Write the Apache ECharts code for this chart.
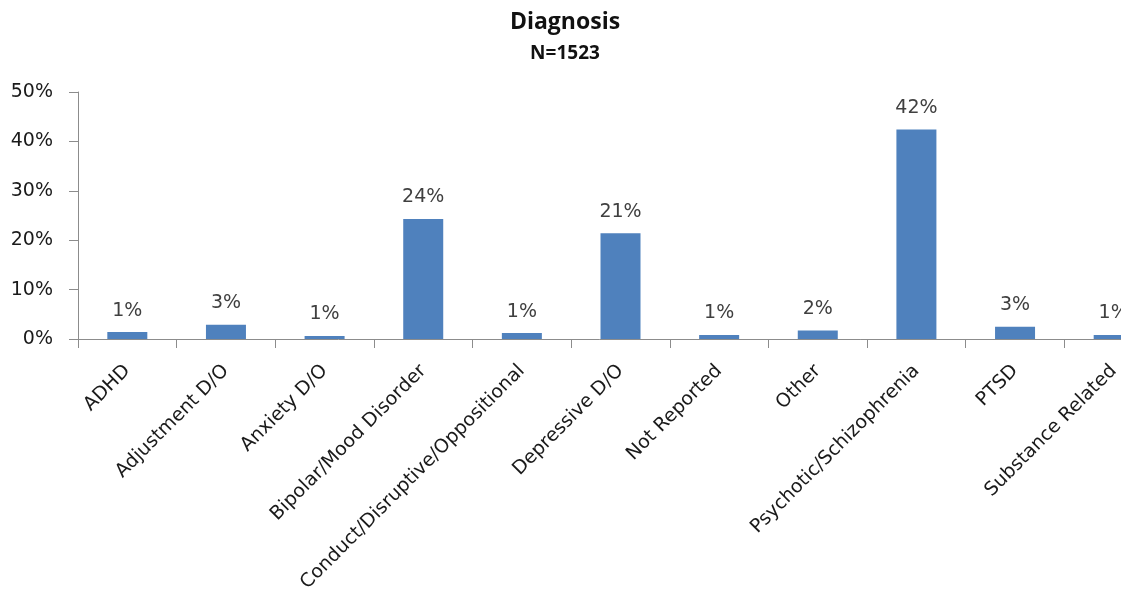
<!DOCTYPE html>
<html>
<head>
<meta charset="utf-8">
<script src="https://cdn.jsdelivr.net/npm/echarts@6/dist/echarts.min.js"></script>
<style>
  html, body { margin: 0; padding: 0; background: #ffffff; }
  #chart { width: 1121px; height: 590px; }
</style>
</head>
<body>
<div id="chart"></div>
<script>
// Diagnosis categories and share of clients (percent)
const categories = [
  'ADHD', 'Adjustment D/O', 'Anxiety D/O', 'Bipolar/Mood Disorder',
  'Conduct/Disruptive/Oppositional', 'Depressive D/O', 'Not Reported',
  'Other', 'Psychotic/Schizophrenia', 'PTSD', 'Substance Related'
];
const shares = [1.4, 2.9, 0.6, 24.3, 1.2, 21.4, 0.8, 1.7, 42.4, 2.5, 0.8];
const yTicks = [0, 10, 20, 30, 40, 50];

const titleText = 'Diagnosis';
const subtitleText = 'N=1523';

const axisGray = '#8c8c8c';
const textGray = '#404040';
const fontFace = 'Verdana, "DejaVu Sans", sans-serif';

const chart = echarts.init(document.getElementById('chart'), null, { renderer: 'canvas' });

chart.setOption({
  animation: false,
  backgroundColor: '#ffffff',
  title: [
    {
      text: titleText,
      left: 560, top: 6, textAlign: 'center',
      textStyle: { fontFamily: 'Open Sans', fontWeight: 'bold', fontSize: 23, color: '#111' }
    },
    {
      text: subtitleText,
      left: 560, top: 39, textAlign: 'center',
      textStyle: { fontFamily: 'Open Sans', fontWeight: 'bold', fontSize: 19, color: '#111' }
    }
  ],
  grid: {
    left: 78, top: 92, width: 1085, height: 247,
    containLabel: false, outerBoundsMode: 'none'
  },
  xAxis: {
    type: 'category',
    data: categories,
    axisLine: { show: true, lineStyle: { color: axisGray, width: 1 } },
    axisTick: { show: true, alignWithLabel: false, length: 9, lineStyle: { color: axisGray } },
    axisLabel: {
      interval: 0, rotate: 45, margin: 29,
      fontFamily: fontFace, fontSize: 19, color: '#1a1a1a'
    },
    splitLine: { show: false }
  },
  yAxis: {
    type: 'value',
    min: yTicks[0], max: yTicks[yTicks.length - 1], interval: 10,
    axisLine: { show: true, lineStyle: { color: axisGray, width: 1 } },
    axisTick: { show: true, length: 9, lineStyle: { color: axisGray } },
    axisLabel: {
      margin: 25,
      fontFamily: fontFace, fontSize: 19, color: '#1a1a1a',
      formatter: v => v + '%'
    },
    splitLine: { show: false }
  },
  series: [{
    type: 'bar',
    data: shares,
    barWidth: 40,
    itemStyle: { color: '#4f81bd' },
    label: {
      show: true, position: 'top', distance: 12,
      fontFamily: fontFace, fontSize: 19, color: textGray,
      formatter: p => Math.round(p.value) + '%'
    }
  }]
});
</script>
</body>
</html>
